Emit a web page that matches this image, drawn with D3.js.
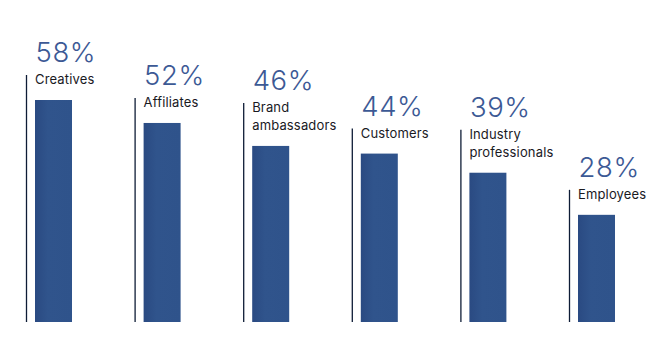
<!DOCTYPE html>
<html><head><meta charset="utf-8">
<script src="https://cdn.jsdelivr.net/npm/d3@7"></script>
<style>html,body{margin:0;padding:0;background:#fff;}svg{display:block;}</style>
</head><body>
<svg id="chart" width="668" height="352"></svg>
<script>
const categories = ["Creatives", "Affiliates", "Brand ambassadors", "Customers", "Industry professionals", "Employees"];
const labelLines = [["Creatives"], ["Affiliates"], ["Brand", "ambassadors"], ["Customers"], ["Industry", "professionals"], ["Employees"]];
const values = [58, 52, 46, 44, 39, 28];
const valueLabels = ["58%", "52%", "46%", "44%", "39%", "28%"];

const svg = d3.select("#chart");
const defs = svg.append("defs");
const grad = defs.append("linearGradient").attr("id", "barGrad").attr("x1", "0").attr("x2", "1").attr("y1", "0").attr("y2", "0");
grad.append("stop").attr("offset", "0%").attr("stop-color", "#2a4a82");
grad.append("stop").attr("offset", "35%").attr("stop-color", "#30548c");
grad.append("stop").attr("offset", "100%").attr("stop-color", "#2f538b");

const x = d3.scaleBand().domain(categories).range([26.5, 26.5 + 6 * 108.6]).paddingInner(0).paddingOuter(0);
const y = d3.scaleLinear().domain([0, 58]).range([322, 100]);
const barOffset = 8.5, barW = 37;

const g = svg.append("g");
categories.forEach((c, i) => {
  const x0 = x(c);
  const top = y(values[i]);
  const lines = labelLines[i];
  const lastBase = top - 16;
  const firstBase = lastBase - 18 * (lines.length - 1);
  const pctBase = firstBase - 22;
  const lineTop = firstBase - 9;

  g.append("line").attr("x1", x0).attr("x2", x0).attr("y1", lineTop).attr("y2", y(0))
    .attr("stroke", "#0e1c36").attr("stroke-width", 1.3);
  g.append("rect").attr("x", x0 + barOffset).attr("y", top).attr("width", barW).attr("height", y(0) - top)
    .attr("fill", "url(#barGrad)");
  g.append("text").attr("x", x0 + barOffset + 0.5).attr("y", pctBase)
    .attr("font-family", "Inter, 'Open Sans', sans-serif").attr("font-weight", 300).attr("font-size", 27.5)
    .attr("letter-spacing", 0.6)
    .attr("fill", "#3c5995").text(valueLabels[i]);
  lines.forEach((ln, j) => {
    g.append("text").attr("x", x0 + barOffset).attr("y", firstBase + 18 * j)
      .attr("font-family", "Inter, 'Open Sans', sans-serif").attr("font-weight", 400).attr("font-size", 13)
      .attr("letter-spacing", 0.15)
      .attr("fill", "#1a1a1f").text(ln);
  });
});
</script>
</body></html>
